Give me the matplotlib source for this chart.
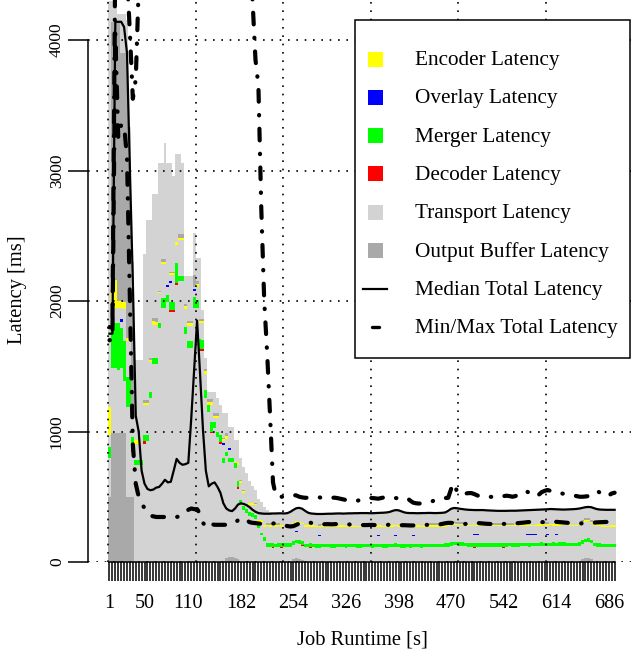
import matplotlib
matplotlib.use('Agg')
import matplotlib.pyplot as plt
from matplotlib.patches import Rectangle
from matplotlib.lines import Line2D
import numpy as np

plt.rcParams['font.family'] = ['Liberation Serif', 'DejaVu Serif']

# One bar per time bin, latency parts in ms, listed bottom to top of the stack.
out_buf_low = [
    500, 990, 990, 990, 990, 990, 500, 500, 500, 0,
    0, 0, 0, 0, 0, 0, 0, 0, 0, 0,
    0, 0, 0, 0, 0, 0, 0, 0, 0, 0,
    0, 0, 0, 0, 0, 0, 0, 0, 0, 0,
    30, 40, 35, 30, 25, 0, 0, 0, 0, 0,
    0, 0, 0, 0, 0, 0, 0, 0, 0, 0,
    0, 0, 0, 20, 30, 25, 15, 0, 0, 0,
    0, 0, 0, 0, 0, 0, 0, 0, 0, 0,
    0, 0, 0, 0, 0, 0, 0, 0, 0, 0,
    0, 0, 0, 0, 0, 0, 0, 0, 0, 0,
    0, 0, 0, 0, 0, 0, 0, 0, 0, 0,
    0, 0, 0, 0, 0, 0, 0, 0, 0, 0,
    0, 0, 0, 0, 0, 0, 0, 0, 0, 0,
    0, 0, 0, 0, 0, 0, 0, 0, 0, 0,
    0, 0, 0, 0, 0, 0, 0, 0, 0, 0,
    0, 0, 0, 0, 0, 0, 0, 0, 0, 0,
    0, 0, 20, 30, 30, 20, 0, 0, 0, 0,
    0, 0, 0, 0]

transport_a = [
    300, 500, 500, 480, 500, 400, 690, 690, 340, 740,
    740, 740, 905, 930, 1255, 1520, 1520, 1790, 1950, 1950,
    1990, 1915, 1915, 2125, 2150, 2150, 1750, 1640, 1640, 1950,
    1950, 1615, 1615, 1260, 1150, 985, 1030, 960, 905, 760,
    780, 730, 735, 690, 535, 440, 400, 375, 350, 345,
    330, 260, 205, 160, 115, 114, 108, 113, 115, 108,
    116, 117, 115, 113, 112, 114, 108, 114, 112, 106,
    112, 111, 110, 112, 113, 112, 111, 110, 112, 113,
    112, 111, 112, 113, 112, 110, 111, 112, 113, 112,
    111, 112, 113, 112, 111, 110, 112, 113, 114, 112,
    111, 110, 112, 111, 112, 113, 112, 111, 112, 113,
    112, 113, 114, 113, 112, 114, 118, 126, 128, 127,
    125, 122, 120, 118, 117, 110, 117, 118, 117, 116,
    117, 118, 117, 116, 117, 110, 118, 119, 118, 117,
    118, 119, 120, 119, 118, 119, 120, 121, 122, 121,
    120, 121, 122, 121, 122, 123, 122, 121, 120, 119,
    120, 122, 118, 120, 124, 122, 119, 116, 114, 113,
    112, 112, 113, 112]

decoder = [
    0, 0, 0, 0, 0, 0, 0, 0, 20, 0,
    0, 0, 20, 0, 0, 0, 0, 0, 0, 0,
    0, 15, 15, 15, 0, 0, 0, 0, 0, 0,
    0, 15, 15, 0, 0, 15, 0, 0, 15, 0,
    0, 0, 0, 0, 15, 0, 0, 0, 0, 0,
    0, 0, 0, 0, 0, 0, 8, 0, 0, 8,
    0, 0, 0, 0, 0, 0, 8, 0, 0, 8,
    0, 0, 0, 0, 0, 0, 0, 0, 0, 0,
    0, 0, 0, 0, 0, 0, 0, 0, 0, 0,
    0, 0, 0, 0, 0, 0, 0, 0, 0, 0,
    0, 0, 0, 0, 0, 0, 0, 0, 0, 0,
    0, 0, 0, 0, 0, 0, 0, 0, 0, 0,
    0, 0, 0, 0, 0, 8, 0, 0, 0, 0,
    0, 0, 0, 0, 0, 8, 0, 0, 0, 0,
    0, 0, 0, 0, 0, 0, 0, 0, 0, 0,
    0, 0, 0, 0, 0, 0, 0, 0, 0, 0,
    0, 0, 0, 0, 0, 0, 0, 0, 0, 0,
    0, 0, 0, 0]

merger = [
    80, 340, 340, 360, 300, 300, 230, 230, 100, 40,
    40, 40, 45, 40, 45, 40, 40, 40, 70, 70,
    55, 60, 60, 150, 40, 40, 50, 50, 50, 80,
    60, 80, 70, 60, 50, 70, 40, 40, 50, 40,
    30, 30, 30, 40, 45, 35, 30, 35, 30, 30,
    30, 30, 20, 30, 28, 28, 27, 28, 28, 27,
    28, 28, 27, 28, 29, 28, 28, 27, 28, 28,
    28, 27, 28, 28, 28, 29, 28, 28, 27, 28,
    28, 28, 28, 27, 28, 28, 28, 29, 28, 28,
    28, 28, 27, 28, 28, 28, 28, 28, 29, 28,
    28, 28, 28, 27, 28, 28, 28, 28, 28, 28,
    28, 28, 27, 28, 28, 28, 28, 29, 29, 28,
    28, 28, 28, 28, 27, 28, 28, 28, 28, 28,
    28, 28, 28, 27, 28, 28, 28, 28, 28, 28,
    28, 28, 29, 28, 28, 28, 28, 28, 28, 28,
    28, 28, 28, 28, 28, 29, 28, 28, 28, 28,
    28, 28, 28, 29, 29, 28, 28, 28, 28, 28,
    28, 28, 28, 28]

transport_b = [
    90, 100, 100, 120, 50, 200, 270, 270, 180, 125,
    125, 0, 200, 200, 200, 200, 250, 200, 200, 200,
    65, 150, 150, 140, 200, 200, 130, 100, 100, 50,
    80, 120, 130, 120, 0, 130, 30, 100, 0, 100,
    100, 55, 0, 0, 120, 130, 100, 0, 60, 60,
    75, 20, 60, 60, 60, 60, 61, 59, 60, 60,
    59, 60, 61, 60, 60, 60, 59, 60, 61, 60,
    60, 60, 59, 60, 60, 61, 60, 60, 59, 60,
    60, 61, 60, 60, 59, 60, 60, 61, 60, 60,
    60, 59, 60, 60, 61, 60, 60, 59, 60, 60,
    61, 60, 60, 59, 60, 60, 61, 60, 60, 59,
    60, 60, 61, 60, 60, 59, 60, 60, 61, 60,
    60, 60, 59, 60, 60, 61, 60, 60, 59, 60,
    60, 61, 60, 60, 59, 60, 60, 61, 60, 60,
    59, 60, 60, 61, 60, 60, 59, 60, 60, 61,
    60, 60, 59, 60, 60, 61, 60, 60, 59, 60,
    60, 61, 60, 60, 59, 60, 60, 61, 60, 60,
    59, 60, 60, 61]

overlay = [
    0, 0, 0, 0, 20, 0, 0, 0, 0, 0,
    0, 0, 0, 0, 0, 0, 0, 0, 0, 0,
    10, 10, 0, 0, 0, 0, 0, 0, 0, 10,
    0, 0, 0, 0, 0, 0, 0, 0, 0, 15,
    0, 15, 0, 0, 0, 0, 0, 0, 0, 0,
    0, 0, 0, 0, 0, 0, 0, 0, 0, 0,
    0, 0, 0, 0, 7, 0, 0, 0, 0, 0,
    0, 0, 7, 0, 0, 0, 0, 0, 0, 0,
    0, 0, 0, 0, 0, 0, 0, 0, 0, 0,
    0, 0, 7, 0, 0, 0, 0, 0, 7, 0,
    0, 0, 0, 0, 7, 0, 0, 0, 0, 0,
    0, 0, 0, 0, 0, 0, 0, 0, 0, 0,
    0, 0, 0, 0, 0, 7, 7, 0, 0, 0,
    0, 0, 0, 0, 0, 0, 0, 0, 0, 0,
    0, 0, 0, 7, 7, 7, 7, 0, 0, 0,
    7, 0, 0, 7, 0, 0, 0, 0, 0, 0,
    0, 0, 0, 0, 0, 0, 0, 0, 0, 0,
    0, 0, 0, 0]

transport_c = [
    0, 20, 20, 0, 90, 50, 0, 0, 0, 0,
    0, 0, 30, 30, 30, 60, 10, 30, 60, 60,
    160, 50, 60, 0, 80, 80, 10, 20, 20, 20,
    20, 0, 0, 0, 0, 0, 0, 0, 0, 10,
    0, 0, 0, 0, 0, 0, 0, 0, 0, 0,
    0, 0, 20, 20, 70, 70, 70, 71, 70, 69,
    70, 70, 71, 70, 63, 70, 70, 69, 70, 70,
    71, 70, 63, 70, 70, 69, 70, 71, 70, 70,
    70, 69, 70, 71, 70, 70, 69, 70, 70, 71,
    70, 70, 63, 70, 69, 70, 71, 70, 63, 70,
    69, 70, 70, 71, 63, 70, 69, 70, 70, 70,
    71, 70, 69, 70, 70, 70, 71, 70, 69, 70,
    70, 71, 70, 69, 70, 63, 63, 70, 71, 70,
    70, 69, 70, 70, 71, 70, 70, 69, 70, 70,
    71, 70, 69, 63, 63, 63, 63, 70, 69, 70,
    63, 71, 70, 63, 69, 70, 70, 71, 70, 70,
    69, 70, 70, 71, 70, 70, 69, 70, 71, 70,
    70, 69, 70, 70]

encoder = [
    220, 210, 210, 50, 50, 50, 30, 30, 30, 30,
    30, 0, 20, 20, 15, 25, 20, 10, 20, 20,
    0, 15, 15, 20, 15, 15, 20, 20, 20, 0,
    20, 15, 15, 20, 25, 25, 20, 20, 0, 15,
    25, 0, 0, 10, 20, 15, 12, 0, 10, 15,
    10, 10, 15, 10, 10, 10, 10, 10, 10, 10,
    10, 10, 10, 10, 10, 10, 10, 10, 10, 10,
    10, 10, 10, 10, 10, 10, 10, 10, 10, 10,
    10, 10, 10, 10, 10, 10, 10, 10, 10, 10,
    10, 10, 10, 10, 10, 10, 10, 10, 10, 10,
    10, 10, 10, 10, 10, 10, 10, 10, 10, 10,
    10, 10, 10, 10, 10, 10, 10, 10, 10, 10,
    10, 10, 10, 10, 10, 10, 10, 10, 10, 10,
    10, 10, 10, 10, 10, 10, 10, 10, 10, 10,
    10, 10, 10, 10, 10, 10, 10, 10, 10, 10,
    10, 10, 10, 10, 10, 10, 10, 10, 10, 10,
    10, 10, 10, 10, 10, 10, 10, 10, 10, 10,
    10, 10, 10, 10]

out_buf_high = [
    0, 1980, 1980, 2140, 1900, 1910, 2130, 1380, 900, 0,
    0, 0, 20, 20, 15, 25, 30, 10, 20, 20,
    0, 10, 10, 0, 25, 25, 20, 20, 20, 90,
    20, 15, 15, 20, 25, 25, 20, 20, 0, 10,
    25, 0, 0, 0, 0, 10, 10, 0, 0, 0,
    10, 0, 0, 0, 15, 15, 15, 15, 15, 0,
    0, 0, 0, 0, 0, 0, 0, 0, 0, 0,
    0, 0, 15, 15, 15, 0, 0, 0, 0, 0,
    0, 0, 0, 0, 0, 0, 0, 15, 15, 15,
    15, 0, 0, 0, 0, 0, 0, 0, 0, 0,
    0, 0, 0, 0, 0, 0, 0, 0, 0, 0,
    15, 15, 15, 0, 0, 15, 15, 15, 15, 15,
    15, 15, 0, 0, 0, 0, 0, 0, 0, 0,
    15, 15, 15, 15, 15, 15, 15, 15, 15, 0,
    0, 0, 0, 0, 0, 0, 0, 0, 15, 15,
    15, 0, 0, 0, 15, 15, 15, 0, 0, 0,
    0, 0, 15, 15, 15, 15, 15, 0, 0, 0,
    0, 0, 0, 0]

# top of the whole stack (the rest up to here is transport latency)
stack_top = [
    4300, 4300, 4280, 4200, 4200, 4200, 4150, 3330, 2300, 1550,
    1550, 1550, 2360, 2620, 2620, 2820, 2820, 3060, 3060, 3210,
    3060, 3060, 2960, 3130, 3130, 3060, 2190, 2190, 2190, 2520,
    2330, 2330, 1930, 1560, 1300, 1300, 1300, 1260, 1200, 1140,
    1140, 1035, 1035, 935, 935, 800, 730, 680, 620, 580,
    550, 480, 460, 420, 395, 385, 368, 367, 368, 368,
    367, 370, 380, 395, 407, 410, 403, 387, 373, 367,
    365, 363, 363, 363, 364, 365, 365, 366, 367, 367,
    366, 367, 368, 368, 369, 369, 370, 370, 370, 369,
    369, 370, 371, 372, 373, 375, 379, 387, 393, 391,
    383, 375, 371, 370, 370, 369, 369, 370, 370, 371,
    371, 370, 370, 371, 372, 375, 387, 403, 409, 407,
    403, 400, 397, 395, 394, 393, 393, 393, 393, 391,
    390, 389, 388, 387, 387, 387, 387, 388, 388, 388,
    389, 390, 391, 392, 393, 394, 395, 396, 397, 398,
    399, 401, 400, 399, 398, 397, 397, 398, 399, 400,
    402, 405, 410, 415, 417, 415, 407, 400, 397, 396,
    395, 395, 395, 395]

median_total = [
    1750, 1750, 4140, 4140, 4140, 4100, 3900, 3000, 2150, 1120,
    1000, 700, 600, 560, 550, 555, 570, 575, 600, 630,
    610, 615, 700, 790, 760, 745, 750, 760, 1100, 1480,
    1850, 1450, 1020, 700, 580, 600, 610, 575, 530, 450,
    410, 395, 390, 410, 440, 450, 445, 435, 420, 400,
    385, 375, 372, 370, 370, 370, 372, 372, 373, 373,
    372, 375, 385, 400, 412, 415, 408, 392, 378, 372,
    370, 368, 368, 368, 369, 370, 370, 371, 372, 372,
    371, 372, 373, 373, 374, 374, 375, 375, 375, 374,
    374, 375, 376, 377, 378, 380, 384, 392, 398, 396,
    388, 380, 376, 375, 375, 374, 374, 375, 375, 376,
    376, 375, 375, 376, 377, 380, 392, 408, 414, 412,
    408, 405, 402, 400, 399, 398, 398, 398, 398, 396,
    395, 394, 393, 392, 392, 392, 392, 393, 393, 393,
    394, 395, 396, 397, 398, 399, 400, 401, 402, 403,
    404, 406, 405, 404, 403, 402, 402, 403, 404, 405,
    407, 410, 415, 420, 422, 420, 412, 405, 402, 401,
    400, 400, 400, 400]

min_total = [
    1700, 1700, 4050, 3250, 3350, 3350, 3100, 2000, 900, 600,
    500, 455, 410, 370, 355, 350, 345, 345, 345, 345,
    345, 340, 340, 345, 350, 355, 370, 400, 410, 405,
    405, 370, 300, 275, 260, 290, 285, 285, 285, 285,
    285, 285, 290, 300, 320, 340, 335, 320, 305, 300,
    298, 295, 292, 290, 291, 293, 295, 297, 290, 285,
    280, 275, 272, 275, 285, 295, 305, 308, 305, 300,
    295, 290, 288, 289, 290, 290, 289, 290, 291, 291,
    290, 290, 288, 286, 285, 284, 283, 283, 283, 284,
    284, 283, 283, 284, 284, 285, 285, 284, 283, 283,
    282, 282, 281, 280, 280, 281, 282, 283, 284, 285,
    285, 285, 286, 288, 292, 297, 300, 300, 298, 296,
    292, 290, 292, 296, 300, 300, 299, 297, 295, 293,
    292, 291, 290, 290, 291, 292, 293, 294, 295, 296,
    298, 300, 302, 305, 307, 308, 309, 308, 306, 305,
    305, 306, 307, 308, 306, 304, 302, 300, 299, 298,
    297, 296, 296, 297, 298, 300, 302, 304, 305, 306,
    307, 307, 306, 305]

max_total = [
    1800, 1800, 4700, 4650, 4600, 4550, 4500, 4050, 3550, 3700,
    4400, 4900, 5200, 5400, 5600, 5500, 5300, 5600, 5800, 5700,
    5500, 5600, 5400, 5200, 5300, 5500, 5400, 5200, 5600, 6000,
    6200, 5900, 5500, 5300, 5100, 5000, 5200, 5100, 4900, 5000,
    5100, 5000, 4900, 4800, 4900, 4800, 4700, 4800, 4700, 4300,
    3850, 3650, 2700, 2000, 1600, 1120, 610, 505, 500, 500,
    500, 505, 510, 513, 510, 500, 495, 492, 493, 493,
    493, 492, 495, 490, 488, 490, 492, 493, 490, 485,
    480, 475, 470, 468, 465, 470, 478, 485, 490, 492,
    490, 488, 485, 490, 495, 498, 500, 495, 490, 488,
    490, 493, 490, 470, 455, 450, 448, 450, 452, 455,
    460, 470, 480, 485, 490, 490, 492, 560, 605, 540,
    513, 520, 525, 528, 528, 520, 510, 500, 495, 495,
    498, 500, 497, 495, 500, 505, 508, 505, 500, 505,
    515, 530, 545, 540, 525, 510, 500, 515, 535, 545,
    552, 545, 535, 530, 528, 525, 520, 518, 515, 510,
    505, 500, 500, 502, 505, 515, 530, 546, 530, 510,
    500, 510, 525, 531]

tick_bars = [0, 12, 27, 45, 63, 81, 99, 117, 135, 153, 171]
tick_names = ['1', '50', '110', '182', '254', '326', '398', '470', '542', '614', '686']
y_ticks = [0, 1000, 2000, 3000, 4000]
grid_bars = [0, 30, 60, 90, 120, 150]

LIGHT = '#D3D3D3'
DARK = '#A9A9A9'
MINMAX_STYLE = (0, (0.1, 3.2, 2.8, 3.2))
GRID_STYLE = (0, (1, 4))

W, H = 631, 656
fig = plt.figure(figsize=(W / 100, H / 100), dpi=100)
ax = fig.add_axes([87.7 / W, 94 / H, (637 - 87.7) / W, 562 / H])
ax.set_xlim(-6.96, 181.16)
ax.set_ylim(0, 4307)

n_bars = len(stack_top)
x_left = np.arange(n_bars)
x_mid = x_left + 0.5

# stacked bars, bottom to top
parts = [(out_buf_low, DARK), (transport_a, LIGHT), (decoder, '#FF0000'),
         (merger, '#00FF00'), (transport_b, LIGHT), (overlay, '#0000FF'),
         (transport_c, LIGHT), (encoder, '#FFFF00'), (out_buf_high, DARK)]
bottom = np.zeros(n_bars)
for vals, col in parts:
    v = np.array(vals, dtype=float)
    ax.bar(x_left, v, width=1.0, bottom=bottom, align='edge', color=col,
           linewidth=0, antialiased=False, zorder=1)
    bottom += v
rest = np.clip(np.array(stack_top, dtype=float) - bottom, 0, None)
ax.bar(x_left, rest, width=1.0, bottom=bottom, align='edge', color=LIGHT,
       linewidth=0, antialiased=False, zorder=1)

# dotted grid on top of the bars
for yv in y_ticks:
    ax.axhline(yv, color='black', lw=1.2, ls=GRID_STYLE, zorder=2)
for xv in grid_bars:
    ax.axvline(xv, color='black', lw=1.2, ls=GRID_STYLE, zorder=2)

ax.plot(x_mid, median_total, color='black', lw=1.6, zorder=3,
        solid_joinstyle='round')
for series in (min_total, max_total):
    ax.plot(x_mid, series, color='black', lw=3.0, ls=MINMAX_STYLE,
            dash_capstyle='round', dash_joinstyle='round', zorder=3)

# axes in the R style
for s in ('top', 'right'):
    ax.spines[s].set_visible(False)
ax.spines['left'].set_bounds(0, 4000)
ax.spines['left'].set_linewidth(1.1)
ax.spines['bottom'].set_bounds(0.5, n_bars - 0.5)
ax.spines['bottom'].set_linewidth(1.1)

labels = [''] * n_bars
for b, name in zip(tick_bars, tick_names):
    labels[b] = name
ax.set_xticks(x_mid)
ax.set_xticklabels(labels)
ax.tick_params(axis='x', length=13.7, width=1.1, pad=9, labelsize=14.5)
ax.set_yticks(y_ticks)
ax.set_yticklabels([str(v) for v in y_ticks], rotation=90, va='center')
ax.tick_params(axis='y', length=14.4, width=1.1, pad=2, labelsize=12.5)

# overlay in pixel coordinates for titles and the legend
ov = fig.add_axes([0, 0, 1, 1], zorder=5)
ov.set_xlim(0, W)
ov.set_ylim(H, 0)
ov.axis('off')

ov.text(362.5, 640, 'Job Runtime [s]', ha='center', va='center', fontsize=14.8)
ov.text(18, 290, 'Latency [ms]', ha='center', va='center', rotation=90,
        fontsize=14.8)

ov.add_patch(Rectangle((355, 20), 275, 338, facecolor='white',
                       edgecolor='black', lw=1.1))
legend_names = ['Encoder Latency', 'Overlay Latency', 'Merger Latency',
                'Decoder Latency', 'Transport Latency', 'Output Buffer Latency',
                'Median Total Latency', 'Min/Max Total Latency']
legend_colors = ['#FFFF00', '#0000FF', '#00FF00', '#FF0000', LIGHT, DARK]
for i, name in enumerate(legend_names):
    yc = 59.3 + 38.2 * i
    if i < len(legend_colors):
        ov.add_patch(Rectangle((368, yc - 7.5), 15, 15,
                               facecolor=legend_colors[i], lw=0))
    elif name.startswith('Median'):
        ov.add_line(Line2D([363, 387], [yc, yc], color='black', lw=1.6))
    else:
        # one dot and one dash, as the sample in the original legend
        ov.add_line(Line2D([363, 363.2], [yc, yc], color='black', lw=2.4,
                           solid_capstyle='round'))
        ov.add_line(Line2D([372, 379], [yc, yc], color='black', lw=2.4,
                           solid_capstyle='round'))
    ov.text(415, yc + 1.5, name, ha='left', va='center', fontsize=15.3)

fig.savefig('out.png', dpi=100)
